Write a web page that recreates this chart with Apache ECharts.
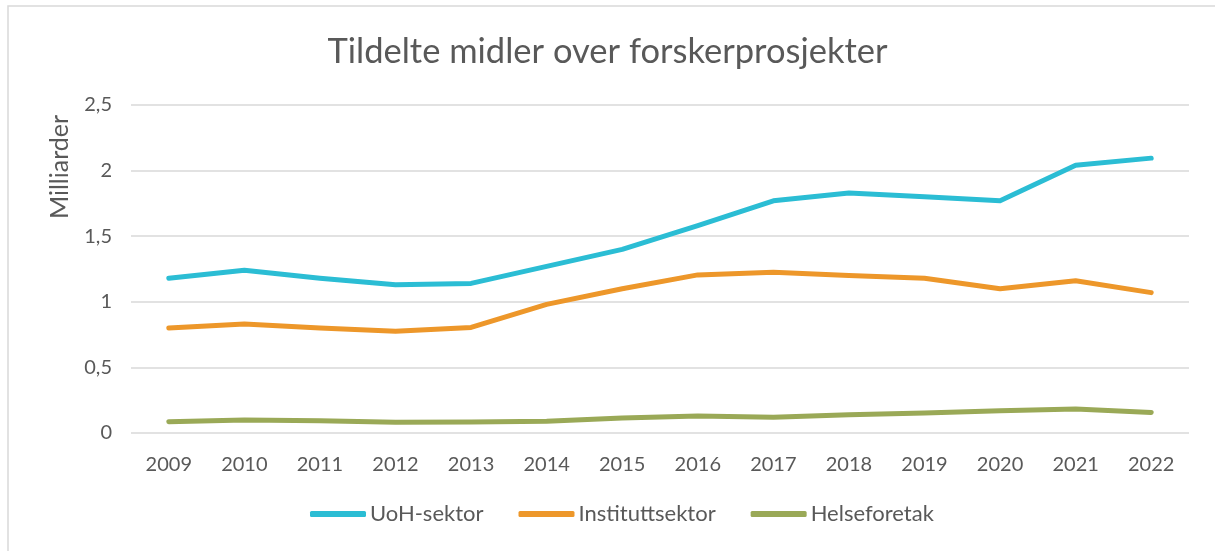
<!DOCTYPE html>
<html>
<head>
<meta charset="utf-8">
<script src="https://cdn.jsdelivr.net/npm/echarts@6/dist/echarts.min.js"></script>
<style>
  html, body { margin: 0; padding: 0; background: #fff; }
  #chart { width: 1215px; height: 551px; }
</style>
</head>
<body>
<div id="chart"></div>
<script>
const years = ['2009', '2010', '2011', '2012', '2013', '2014', '2015', '2016', '2017', '2018', '2019', '2020', '2021', '2022'];
const uohSektor = [1.18, 1.24, 1.18, 1.13, 1.14, 1.27, 1.40, 1.58, 1.77, 1.83, 1.80, 1.77, 2.04, 2.095];
const instituttSektor = [0.80, 0.83, 0.80, 0.775, 0.805, 0.98, 1.10, 1.205, 1.225, 1.20, 1.18, 1.10, 1.16, 1.07];
const helseforetak = [0.086, 0.10, 0.094, 0.082, 0.084, 0.09, 0.114, 0.13, 0.12, 0.139, 0.152, 0.17, 0.183, 0.157];

const textColor = '#595959';
const fontFamily = 'Lato, "Open Sans", sans-serif';

const chart = echarts.init(document.getElementById('chart'));

const lineSeries = (name, data, color) => ({
  name: name,
  type: 'line',
  data: data,
  symbol: 'none',
  smooth: false,
  itemStyle: { color: color },
  lineStyle: { width: 5, color: color, cap: 'round', join: 'round' },
});

chart.setOption({
  animation: false,
  textStyle: { fontFamily: fontFamily },
  title: {
    text: 'Tildelte midler over forskerprosjekter',
    left: 'center',
    top: 29,
    textStyle: { fontSize: 34.5, fontWeight: 'normal', color: textColor, fontFamily: fontFamily },
  },
  graphic: [
    {
      type: 'rect',
      silent: true,
      shape: { x: 8, y: 6, width: 1400, height: 700 },
      style: { fill: 'none', stroke: '#d9d9d9', lineWidth: 1.5 },
    },
    {
      type: 'text',
      silent: true,
      x: 47,
      y: 167,
      rotation: Math.PI / 2,
      style: {
        text: 'Milliarder',
        fill: textColor,
        font: '25px ' + fontFamily,
        align: 'center',
        verticalAlign: 'top',
      },
    },
  ],
  legend: {
    bottom: 21,
    left: 305,
    itemWidth: 56,
    itemHeight: 6,
    itemGap: 35,
    icon: 'roundRect',
    textStyle: { fontSize: 22, color: textColor, padding: [0, 0, 0, -1] },
    data: ['UoH-sektor', 'Instituttsektor', 'Helseforetak'],
  },
  grid: {
    left: 131,
    right: 26,
    top: 105,
    bottom: 118,
  },
  xAxis: {
    type: 'category',
    data: years,
    boundaryGap: true,
    axisLine: { show: false },
    axisTick: { show: false },
    axisLabel: { fontSize: 20, color: textColor, margin: 22 },
  },
  yAxis: {
    type: 'value',
    min: 0,
    max: 2.5,
    interval: 0.5,
    axisLine: { show: false },
    axisTick: { show: false },
    axisLabel: {
      fontSize: 20,
      color: textColor,
      margin: 19,
      formatter: (v) => String(v).replace('.', ','),
    },
    splitLine: { lineStyle: { color: '#d9d9d9', width: 1.5 } },
  },
  series: [
    lineSeries('UoH-sektor', uohSektor, '#2bbdd4'),
    lineSeries('Instituttsektor', instituttSektor, '#ed972a'),
    lineSeries('Helseforetak', helseforetak, '#9aa957'),
  ],
});
</script>
</body>
</html>
